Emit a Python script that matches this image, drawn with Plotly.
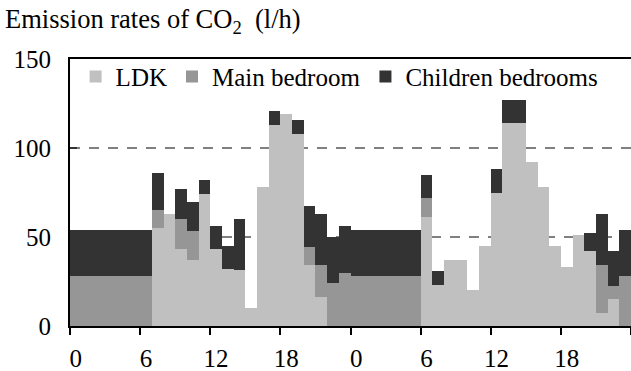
import plotly.graph_objects as go

hours = list(range(48))
tick_labels = ["0", "6", "12", "18", "0", "6", "12", "18"]

ldk = [0, 0, 0, 0, 0, 0, 0, 55, 63, 43, 37, 74, 43, 32, 31.5, 10, 78, 113, 119, 108, 34, 16.5, 0, 0,
       0, 0, 0, 0, 0, 0, 61, 23, 37, 37, 20, 45, 75, 114, 114, 92, 78, 45, 33, 51, 42, 7.5, 15, 0]
main_bed = [28, 28, 28, 28, 28, 28, 28, 10, 0, 17, 16.5, 0, 0, 0, 0, 0, 0, 0, 0, 0, 10.5, 18, 24, 30,
            28, 28, 28, 28, 28, 28, 11, 0, 0, 0, 0, 0, 0, 0, 0, 0, 0, 0, 0, 0, 0, 27, 7.5, 28]
children = [26, 26, 26, 26, 26, 26, 26, 21, 0, 17, 16, 8, 13, 13, 28.5, 0, 0, 8, 0, 8, 23, 28.5, 26, 26,
            26, 26, 26, 26, 26, 26, 13, 8, 0, 0, 0, 0, 13, 13, 13, 0, 0, 0, 0, 0, 10, 28.5, 19.5, 26]

xc = [h + 0.5 for h in hours]
FONT = "Liberation Serif, Times New Roman, serif"

fig = go.Figure()
for name, vals, col in [("LDK", ldk, "#c0c0c0"),
                        ("Main bedroom", main_bed, "#969696"),
                        ("Children bedrooms", children, "#333333")]:
    fig.add_trace(go.Bar(x=xc, y=vals, name=name, width=1,
                         marker=dict(color=col, line=dict(width=0))))

fig.update_layout(
    barmode="stack", bargap=0,
    width=631, height=371,
    margin=dict(l=70, r=0, t=59, b=45, autoexpand=False),
    paper_bgcolor="white", plot_bgcolor="white",
    font=dict(family=FONT, size=25, color="black"),
    showlegend=True,
    legend=dict(orientation="h", x=0.01, xanchor="left", y=1.02, yanchor="top",
                bgcolor="rgba(0,0,0,0)", font=dict(size=25), traceorder="normal"),
    title=dict(text="Emission rates of CO<sub>2</sub>\u00a0\u00a0(l/h)", x=5/631, xref="container",
               xanchor="left", y=1 - 19/371, yref="container", yanchor="middle",
               font=dict(family=FONT, size=26.5, color="black"), automargin=False),
)
fig.update_xaxes(range=[0, 48], tickvals=[0.5 + 6 * i for i in range(8)], ticktext=tick_labels,
                 ticks="", showgrid=False, zeroline=False, automargin=False,
                 showline=True, linecolor="black", linewidth=2, mirror=True,
                 minor=dict(tickvals=[6 * i for i in range(9)], ticks="outside", ticklen=7,
                            tickwidth=1.5, tickcolor="black", showgrid=False),
                 ticklabelstandoff=9)
fig.update_yaxes(range=[0, 150], tickvals=[0, 50, 100, 150], ticks="inside", ticklen=7,
                 tickwidth=1.5, tickcolor="#333333", automargin=False,
                 showgrid=True, gridcolor="#808080", gridwidth=2, griddash="10px,9px",
                 zeroline=False, showline=True, linecolor="black", linewidth=2,
                 ticklabelstandoff=12)

fig.write_html("out.html")
